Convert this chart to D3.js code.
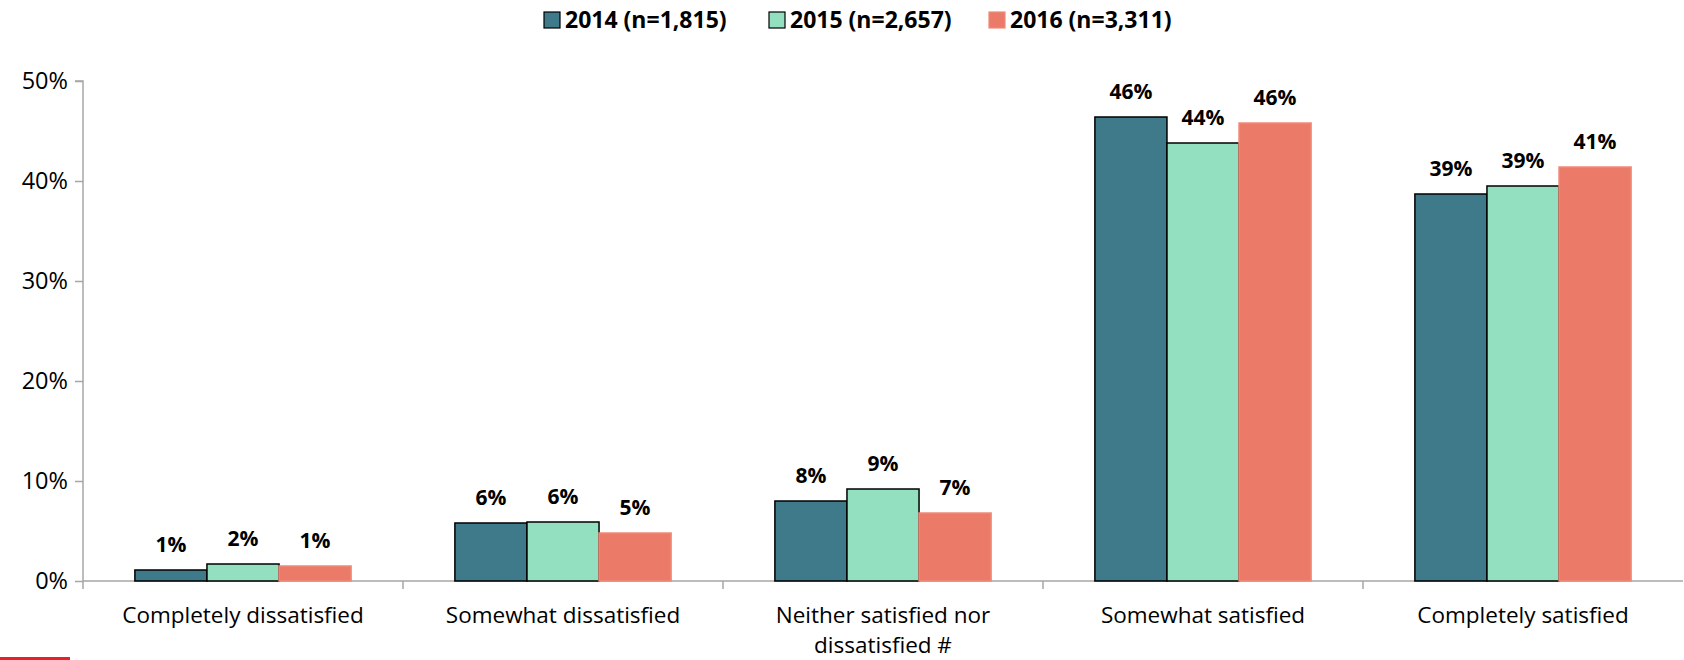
<!DOCTYPE html>
<html>
<head>
<meta charset="utf-8">
<script src="https://cdn.jsdelivr.net/npm/d3@7"></script>
<style>
  body { margin: 0; background: #fff; }
  text { font-family: "Open Sans", "Noto Sans", sans-serif; }
</style>
</head>
<body>
<div id="chart"></div>
<script>
  'use strict';

  var categories = [
    ['Completely dissatisfied'],
    ['Somewhat dissatisfied'],
    ['Neither satisfied nor', 'dissatisfied #'],
    ['Somewhat satisfied'],
    ['Completely satisfied']
  ];
  var seriesNames = ['2014 (n=1,815)', '2015 (n=2,657)', '2016 (n=3,311)'];
  var values2014 = [1.1, 5.8, 8.0, 46.4, 38.7];
  var values2015 = [1.7, 5.9, 9.2, 43.8, 39.5];
  var values2016 = [1.5, 4.8, 6.8, 45.8, 41.4];
  var valueLabels2014 = ['1%', '6%', '8%', '46%', '39%'];
  var valueLabels2015 = ['2%', '6%', '9%', '44%', '39%'];
  var valueLabels2016 = ['1%', '5%', '7%', '46%', '41%'];
  var yTicks = [0, 10, 20, 30, 40, 50];

  var series = [
    { name: seriesNames[0], values: values2014, labels: valueLabels2014, fill: '#3e7a8a', stroke: '#000' },
    { name: seriesNames[1], values: values2015, labels: valueLabels2015, fill: '#93e0c1', stroke: '#000' },
    { name: seriesNames[2], values: values2016, labels: valueLabels2016, fill: '#eb7b68', stroke: '#ef8a78' }
  ];

  var width = 1684, height = 660;
  var margin = { left: 83, right: 1, top: 81, bottom: 79 };

  var svg = d3.select('#chart').append('svg')
    .attr('width', width)
    .attr('height', height);

  var catIdx = d3.range(categories.length);

  var x0 = d3.scaleBand()
    .domain(catIdx)
    .range([margin.left, width - margin.right]);

  var x1 = d3.scaleBand()
    .domain(d3.range(series.length))
    .range([0, x0.bandwidth()])
    .paddingOuter(0.72);

  var y = d3.scaleLinear()
    .domain([0, 50])
    .range([height - margin.bottom, margin.top]);

  // y axis
  var yAxis = svg.append('g')
    .attr('transform', 'translate(' + margin.left + ',0)')
    .call(d3.axisLeft(y).tickValues(yTicks).tickSize(8).tickPadding(7)
      .tickFormat(function(d) { return d + '%'; }));
  yAxis.select('.domain').attr('stroke', '#a6a6a6').attr('stroke-width', 1.5)
    .attr('d', 'M-8,' + y(50) + 'H0V' + (y(0) + 8));
  yAxis.selectAll('.tick line').attr('stroke', '#a6a6a6').attr('stroke-width', 1.5);
  yAxis.selectAll('.tick text').attr('font-size', 23.5).attr('fill', '#000');

  // x baseline and category ticks
  var xg = svg.append('g');
  xg.append('line')
    .attr('x1', margin.left).attr('x2', width - margin.right)
    .attr('y1', y(0)).attr('y2', y(0))
    .attr('stroke', '#a6a6a6').attr('stroke-width', 1.5);
  xg.selectAll('line.tick')
    .data(catIdx.slice(1))
    .enter().append('line')
    .attr('class', 'tick')
    .attr('x1', function(d) { return x0(d); })
    .attr('x2', function(d) { return x0(d); })
    .attr('y1', y(0)).attr('y2', y(0) + 8)
    .attr('stroke', '#a6a6a6').attr('stroke-width', 1.5);

  xg.selectAll('text.cat')
    .data(catIdx)
    .enter().append('text')
    .attr('class', 'cat')
    .attr('text-anchor', 'middle')
    .attr('font-size', 22.5)
    .attr('x', function(d) { return x0(d) + x0.bandwidth() / 2; })
    .attr('y', y(0) + 42)
    .each(function(d) {
      var t = d3.select(this);
      categories[d].forEach(function(line, i) {
        t.append('tspan')
          .attr('x', x0(d) + x0.bandwidth() / 2)
          .attr('dy', i === 0 ? 0 : 30)
          .text(line);
      });
    });

  // bars
  var groups = svg.append('g').selectAll('g')
    .data(series)
    .enter().append('g');

  groups.selectAll('rect')
    .data(function(s, si) {
      return s.values.map(function(v, ci) { return { v: v, ci: ci, si: si, s: s }; });
    })
    .enter().append('rect')
    .attr('x', function(d) { return x0(d.ci) + x1(d.si); })
    .attr('y', function(d) { return y(d.v); })
    .attr('width', x1.bandwidth())
    .attr('height', function(d) { return y(0) - y(d.v); })
    .attr('fill', function(d) { return d.s.fill; })
    .attr('stroke', function(d) { return d.s.stroke; })
    .attr('stroke-width', 1.5);

  groups.selectAll('text')
    .data(function(s, si) {
      return s.values.map(function(v, ci) { return { v: v, ci: ci, si: si, s: s }; });
    })
    .enter().append('text')
    .attr('text-anchor', 'middle')
    .attr('font-size', 21)
    .attr('font-weight', 'bold')
    .attr('x', function(d) { return x0(d.ci) + x1(d.si) + x1.bandwidth() / 2; })
    .attr('y', function(d) { return y(d.v) - 18; })
    .text(function(d) { return d.s.labels[d.ci]; });

  // legend
  var legendX = [544, 769, 989];
  var legend = svg.append('g').selectAll('g')
    .data(series)
    .enter().append('g')
    .attr('transform', function(d, i) { return 'translate(' + legendX[i] + ',12)'; });
  legend.append('rect')
    .attr('width', 16).attr('height', 16)
    .attr('fill', function(d) { return d.fill; })
    .attr('stroke', function(d) { return d.stroke; })
    .attr('stroke-width', 1.2);
  legend.append('text')
    .attr('x', 21).attr('y', 16)
    .attr('font-size', 23)
    .attr('font-weight', 'bold')
    .text(function(d) { return d.name; });

  // red corner mark
  svg.append('rect')
    .attr('x', 0).attr('y', 657).attr('width', 70).attr('height', 3)
    .attr('fill', '#e8202a');
</script>
</body>
</html>
